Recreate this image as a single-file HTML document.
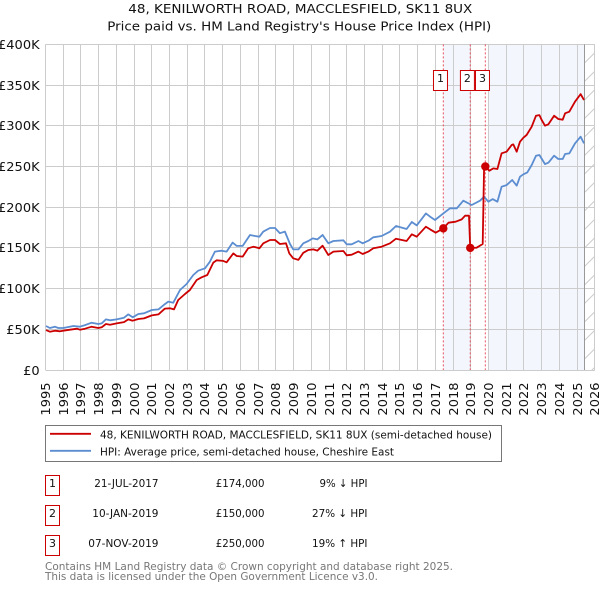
<!DOCTYPE html>
<html lang="en">
<head>
<meta charset="utf-8">
<title>48, KENILWORTH ROAD, MACCLESFIELD, SK11 8UX</title>
<style>
html,body{margin:0;padding:0;background:#fff;width:600px;height:590px;overflow:hidden}
svg{display:block;font-family:"DejaVu Sans","Liberation Sans",sans-serif}
text{fill:#111}
</style>
</head>
<body>
<svg id="chart" xmlns="http://www.w3.org/2000/svg" width="600" height="590" viewBox="0 0 600 590">
<defs>
<pattern id="hatch" width="10" height="18.5" patternUnits="userSpaceOnUse" x="584.5" y="44.5">
<line x1="0" y1="18.5" x2="10" y2="8.5" stroke="#ccc" stroke-width="1"/>
</pattern>
</defs>
<text x="128.3" y="13" font-size="12.4" textLength="344" lengthAdjust="spacingAndGlyphs">48, KENILWORTH ROAD, MACCLESFIELD, SK11 8UX</text>
<text x="107.3" y="30.5" font-size="12.4" textLength="384" lengthAdjust="spacingAndGlyphs">Price paid vs. HM Land Registry's House Price Index (HPI)</text>
<g id="bands"></g>
<g id="grid"></g>
<g id="yticks"></g>
<g id="xticks"></g>
<g id="vlines"></g>
<g id="series"></g>
<g id="markers"></g>
<g id="legend">
<rect x="45.5" y="425.5" width="456" height="36" fill="#fff" stroke="#777" stroke-width="1"/>
<line x1="50" x2="91" y1="433.8" y2="433.8" stroke="#cc0000" stroke-width="1.8"/>
<text x="100" y="438.3" font-size="11" textLength="392" lengthAdjust="spacingAndGlyphs">48, KENILWORTH ROAD, MACCLESFIELD, SK11 8UX (semi-detached house)</text>
<line x1="50" x2="91" y1="450.8" y2="450.8" stroke="#5b8dd0" stroke-width="1.8"/>
<text x="100" y="455.3" font-size="11" textLength="294" lengthAdjust="spacingAndGlyphs">HPI: Average price, semi-detached house, Cheshire East</text>
</g>
<g id="sales-table">
<g>
<rect x="45.5" y="475.5" width="14" height="20" fill="#fff" stroke="#cc0000" stroke-width="1"/>
<text x="52.5" y="487" text-anchor="middle" font-size="11">1</text>
<text x="94.3" y="487" font-size="11" textLength="64.2" lengthAdjust="spacingAndGlyphs">21-JUL-2017</text>
<text x="215.7" y="487" font-size="11" textLength="48.8" lengthAdjust="spacingAndGlyphs">£174,000</text>
<text x="319.5" y="487" font-size="11" textLength="48" lengthAdjust="spacingAndGlyphs">9% ↓ HPI</text>
</g>
<g>
<rect x="45.5" y="505.5" width="14" height="20" fill="#fff" stroke="#cc0000" stroke-width="1"/>
<text x="52.5" y="517" text-anchor="middle" font-size="11">2</text>
<text x="92.3" y="517" font-size="11" textLength="66.2" lengthAdjust="spacingAndGlyphs">10-JAN-2019</text>
<text x="215.7" y="517" font-size="11" textLength="48.8" lengthAdjust="spacingAndGlyphs">£150,000</text>
<text x="312" y="517" font-size="11" textLength="55.5" lengthAdjust="spacingAndGlyphs">27% ↓ HPI</text>
</g>
<g>
<rect x="45.5" y="535.5" width="14" height="20" fill="#fff" stroke="#cc0000" stroke-width="1"/>
<text x="52.5" y="547" text-anchor="middle" font-size="11">3</text>
<text x="88.3" y="547" font-size="11" textLength="70.2" lengthAdjust="spacingAndGlyphs">07-NOV-2019</text>
<text x="215.7" y="547" font-size="11" textLength="48.8" lengthAdjust="spacingAndGlyphs">£250,000</text>
<text x="312" y="547" font-size="11" textLength="55.5" lengthAdjust="spacingAndGlyphs">19% ↑ HPI</text>
</g>
</g>
<text x="45" y="570" font-size="11" textLength="408" lengthAdjust="spacingAndGlyphs" style="fill:#777">Contains HM Land Registry data © Crown copyright and database right 2025.</text>
<text x="45" y="580" font-size="11" textLength="333" lengthAdjust="spacingAndGlyphs" style="fill:#777">This data is licensed under the Open Government Licence v3.0.</text>
</svg>
<script>
const yearTicks = [1995,1996,1997,1998,1999,2000,2001,2002,2003,2004,2005,2006,2007,2008,2009,2010,2011,2012,2013,2014,2015,2016,2017,2018,2019,2020,2021,2022,2023,2024,2025,2026];
const priceTicks = [0,50,100,150,200,250,300,350,400];
const priceTickLabels = ['£0','£50K','£100K','£150K','£200K','£250K','£300K','£350K','£400K'];
const hpiDates = [1995.03,1995.25,1995.53,1995.72,1996,1996.29,1996.57,1996.94,1997.23,1997.6,1997.98,1998.17,1998.41,1998.64,1999.01,1999.43,1999.67,1999.92,2000.24,2000.56,2001,2001.37,2001.74,2001.93,2002.21,2002.59,2002.96,2003.34,2003.62,2004,2004.28,2004.56,2004.94,2005.22,2005.56,2005.79,2006.13,2006.54,2006.82,2007.07,2007.29,2007.67,2007.95,2008.23,2008.51,2008.8,2008.98,2009.27,2009.55,2009.83,2010.08,2010.34,2010.64,2010.96,2011.25,2011.81,2012,2012.28,2012.66,2012.9,2013.22,2013.5,2013.97,2014.44,2014.78,2015.38,2015.67,2015.95,2016.47,2016.7,2016.98,2017.45,2017.83,2018.21,2018.58,2019.05,2019.52,2019.75,2019.99,2020.23,2020.5,2020.74,2021.02,2021.34,2021.59,2021.78,2021.97,2022.19,2022.44,2022.68,2022.87,2023.19,2023.38,2023.7,2023.94,2024.19,2024.32,2024.56,2024.88,2025.2,2025.39];
const hpiValues = [54,51.6,53.2,51.6,51.6,52.8,54,53.2,55.2,58.1,56.5,57.3,62.2,61,62.2,64.2,68.3,64.7,68.8,69.6,73.7,74.5,81,84,82.7,98.3,105.7,116.7,122,125,133,145.4,146.6,145.4,156.5,152.4,152.4,165.9,164.6,163.8,170,174.5,174.5,168,170,154.8,148.3,148.2,155.6,158.5,161.7,160.5,165.8,155.6,158.5,159.3,154.4,154.4,158.5,155.6,158.9,163,164.6,169.9,176.9,173.2,181.8,177.7,192.4,188.4,184.3,192.4,198.6,198.6,208,202.7,208,212.9,206.8,210,206.8,225.2,227.2,233.4,226.4,237.5,240.4,242.8,251.8,263.3,264.1,253,254.7,263.3,259.2,259.2,265.3,266.1,278.4,286.6,278.4];
const paidDates = [1995.03,1995.25,1995.53,1995.82,1996,1996.38,1996.79,1996.94,1997.23,1997.6,1997.98,1998.17,1998.41,1998.64,1999.01,1999.43,1999.67,1999.92,2000.24,2000.56,2001,2001.37,2001.74,2002.02,2002.25,2002.49,2002.87,2003.15,2003.53,2003.81,2004.13,2004.47,2004.66,2005.03,2005.22,2005.6,2005.79,2006.13,2006.44,2006.73,2007.07,2007.29,2007.67,2007.95,2008.23,2008.57,2008.76,2008.98,2009.27,2009.55,2009.83,2010.12,2010.34,2010.64,2010.96,2011.25,2011.81,2012,2012.28,2012.66,2012.9,2013.22,2013.5,2013.97,2014.44,2014.78,2015.38,2015.67,2015.95,2016.47,2016.7,2017.02,2017.45,2017.74,2018.15,2018.49,2018.68,2018.9,2018.97,2019.33,2019.67,2019.75,2019.82,2020.05,2020.27,2020.5,2020.74,2021.02,2021.31,2021.4,2021.59,2021.78,2021.97,2022.15,2022.44,2022.68,2022.87,2023,2023.19,2023.38,2023.7,2023.94,2024.19,2024.32,2024.56,2024.88,2025.2,2025.39];
const paidValues = [49,47,48.3,47.5,48.3,49.5,50.7,49.5,50.7,53.2,51.6,52.4,56.5,55.6,57.3,58.9,62.2,60.6,62.6,63.4,67.1,68.3,75.4,75.8,74.5,86,93.4,98.3,110.6,113.9,116.7,131.9,134.8,134,132.3,143.3,140,139.3,149.5,151.5,149.5,155.6,159.7,159.7,154.8,155.6,143.3,137.2,135.2,144,147.4,148.2,146.6,152.7,141.3,145.4,146.2,140.9,141.7,145.4,142.5,145.4,149.5,151.5,155.6,161.3,158.5,166.7,163.8,176.1,172.8,168.7,174,181,182.2,185,189.6,189.6,150,150.3,154.8,250,250,244.9,247.7,246.9,266.2,268.2,276.4,277.2,268.2,280.5,285.4,288.7,298.9,312.4,313.2,307.1,300.1,301.8,312.4,308.3,307.5,315.3,317.3,329.6,339,331.7];
const saleDates = [2017.45,2018.97,2019.82];
const salePrices = [174,150,250];
const saleLabels = ['1','2','3'];
const badgeCentres = [2017.29,2018.81,2019.66];

const NS = 'http://www.w3.org/2000/svg';
const xStart = 45.5, pxPerYear = 17.72, yZero = 370, pxPerK = 0.814, tickStretch = 1.066;
function xAxis(year){ return xStart + (year - 1995) * pxPerYear; }
function yAxis(k){ return yZero - k * pxPerK; }
function snap(v){ return Math.round(v - 0.5) + 0.5; }
function make(tag, parent, attrs){
  const el = document.createElementNS(NS, tag);
  for (const k in attrs) el.setAttribute(k, attrs[k]);
  parent.appendChild(el);
  return el;
}
const xRight = xAxis(2026), yTop = yAxis(400), dataEnd = 2025.4;

const bands = document.getElementById('bands');
const band1 = make('rect', bands, {x:xAxis(saleDates[0]), y:yTop, width:xAxis(saleDates[1])-xAxis(saleDates[0]), height:yZero-yTop, fill:'#f3f6fd'});


const band2 = make('rect', bands, {x:xAxis(2020), y:yTop, width:xAxis(dataEnd)-xAxis(2020), height:yZero-yTop, fill:'#f3f6fd'});


const hatch = make('rect', bands, {x:xAxis(dataEnd), y:yTop, width:xRight-xAxis(dataEnd), height:yZero-yTop, fill:'url(#hatch)'});



const grid = document.getElementById('grid');
yearTicks.forEach(function(yr){
  const gx = snap(xAxis(yr));
  const l = make('line', grid, {x1:gx, x2:gx, y1:yTop, y2:yZero, stroke:'#ccc', 'stroke-width':1});
  
  
  const t = make('text', document.getElementById('xticks'), {transform:'translate(' + (gx + 4.3) + ',382.5) rotate(-90) scale(' + tickStretch + ',1)', 'text-anchor':'end', 'font-size':12.2});
  
  
  t.textContent = String(yr);
});
priceTicks.forEach(function(k, i){
  const gy = snap(yAxis(k));
  const l = make('line', grid, {x1:xStart, x2:xRight, y1:gy, y2:gy, stroke:'#ccc', 'stroke-width':1});
  
  
  const t = make('text', document.getElementById('yticks'), {transform:'translate(39.6,' + (gy + 4.3) + ') scale(' + tickStretch + ',1)', 'text-anchor':'end', 'font-size':12.2});
  
  
  t.textContent = priceTickLabels[i];
});
const endLine = make('line', grid, {x1:snap(xAxis(dataEnd)), x2:snap(xAxis(dataEnd)), y1:yTop, y2:yZero, stroke:'#999', 'stroke-width':1});



const vlines = document.getElementById('vlines');
saleDates.forEach(function(d){
  const l = make('line', vlines, {x1:xAxis(d), x2:xAxis(d), y1:yTop, y2:yZero, stroke:'#e8505f', 'stroke-width':1, 'stroke-dasharray':'2 2'});
  
  
});

function linePoints(dates, vals){
  return dates.map(function(d, i){ return xAxis(d).toFixed(1) + ',' + yAxis(vals[i]).toFixed(1); }).join(' ');
}
const series = document.getElementById('series');
const hpiLine = make('polyline', series, {points:linePoints(hpiDates, hpiValues), fill:'none', stroke:'#5b8dd0', 'stroke-width':1.8, 'stroke-linejoin':'round'});


const paidLine = make('polyline', series, {points:linePoints(paidDates, paidValues), fill:'none', stroke:'#cc0000', 'stroke-width':1.8, 'stroke-linejoin':'round'});



const markers = document.getElementById('markers');
saleDates.forEach(function(d, i){
  const c = make('circle', markers, {cx:xAxis(d), cy:yAxis(salePrices[i]), r:4.2, fill:'#cc0000'});
  
  
  const bx = xAxis(badgeCentres[i]);
  const r = make('rect', markers, {x:bx - 7, y:70.5, width:14, height:20, fill:'#fff', stroke:'#cc0000', 'stroke-width':1});
  
  
  const t = make('text', markers, {x:bx, y:82, 'text-anchor':'middle', 'font-size':11});
  
  
  t.textContent = saleLabels[i];
});
</script>
</body>
</html>
